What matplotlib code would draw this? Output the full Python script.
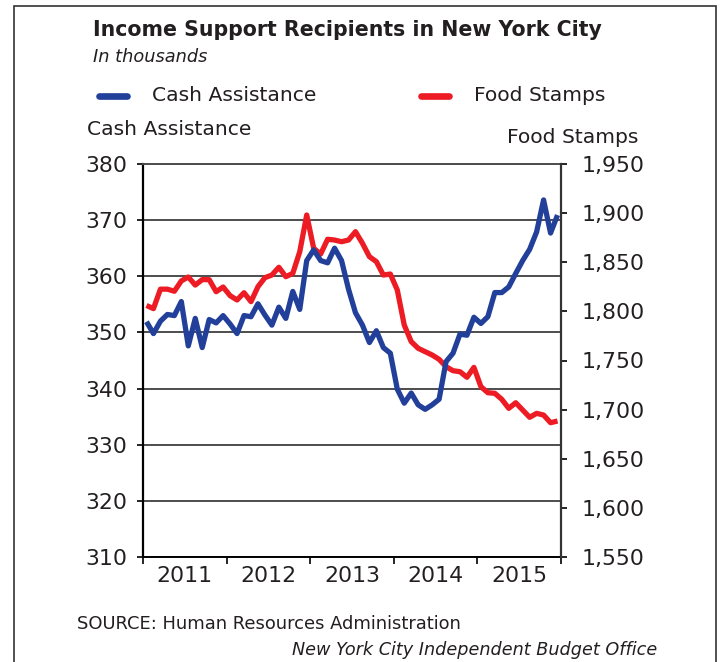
import matplotlib
matplotlib.use('Agg')
import matplotlib.pyplot as plt
from matplotlib.lines import Line2D
from matplotlib.patches import Rectangle
from matplotlib.ticker import FuncFormatter

# ---- data (in thousands), monthly Jan 2011 - Dec 2015 ----
years = [2011, 2012, 2013, 2014, 2015]
cash_assistance = [351.9, 349.8, 352.0, 353.2, 353.0, 355.5, 347.6, 352.5, 347.3, 352.3,
                   351.7, 353.0, 351.5, 349.8, 353.0, 352.8, 355.1, 353.1, 351.3, 354.5,
                   352.5, 357.3, 354.1, 362.8, 364.7, 362.8, 362.4, 365.0, 362.8, 357.7,
                   353.5, 351.3, 348.2, 350.3, 347.3, 346.3, 339.9, 337.4, 339.2, 337.1,
                   336.3, 337.1, 338.1, 344.8, 346.3, 349.7, 349.5, 352.7, 351.6, 352.8,
                   357.1, 357.1, 358.1, 360.5, 362.8, 364.8, 367.9, 373.6, 367.7, 370.9]
food_stamps = [1806.0, 1802.8, 1822.6, 1822.6, 1820.5, 1831.0, 1835.0, 1826.8, 1832.3, 1832.3,
               1820.0, 1824.8, 1816.0, 1811.6, 1819.0, 1809.9, 1825.1, 1834.3, 1837.0, 1844.9,
               1835.3, 1838.7, 1860.7, 1898.1, 1864.2, 1858.4, 1873.4, 1872.6, 1870.9, 1872.6,
               1881.1, 1869.3, 1855.7, 1850.6, 1837.0, 1838.0, 1821.8, 1786.1, 1769.2, 1762.4,
               1759.0, 1755.6, 1751.2, 1743.7, 1739.6, 1738.6, 1732.9, 1743.0, 1723.4, 1717.2,
               1716.6, 1710.5, 1701.3, 1707.0, 1699.6, 1692.2, 1696.2, 1694.5, 1686.7, 1688.4]
cash_ticks = [310, 320, 330, 340, 350, 360, 370, 380]
food_ticks = [1550, 1600, 1650, 1700, 1750, 1800, 1850, 1900, 1950]

months = [years[0] + (i + 0.5) / 12 for i in range(len(cash_assistance))]

BLUE = '#22409a'
RED = '#ed1c24'
TXT = '#231f20'
GRID = '#4d4d4d'

plt.rcParams['font.family'] = ['DejaVu Sans']

W, H = 720, 662
fig = plt.figure(figsize=(W / 100, H / 100), dpi=100)
fig.patch.set_facecolor('white')


def fx(px):
    return px / W


def fy(py):
    return 1 - py / H


# outer frame
fig.patches.append(Rectangle((fx(14), -0.02), fx(716) - fx(14), fy(6) + 0.02,
                             transform=fig.transFigure, fill=False,
                             edgecolor='#333333', linewidth=1.2, clip_on=False))

# texts
fig.text(fx(93), fy(36), 'Income Support Recipients in New York City', fontsize=14.8,
         fontweight='bold', color=TXT, ha='left', va='baseline')
fig.text(fx(93), fy(62), 'In thousands', fontsize=12.8, style='italic',
         color=TXT, ha='left', va='baseline')

fig.lines.append(Line2D([fx(99), fx(127)], [fy(96), fy(96)], transform=fig.transFigure,
                        color=BLUE, linewidth=4.8, solid_capstyle='round'))
fig.text(fx(152), fy(101), 'Cash Assistance', fontsize=14.6, color=TXT,
         ha='left', va='baseline')
fig.lines.append(Line2D([fx(421), fx(449)], [fy(96), fy(96)], transform=fig.transFigure,
                        color=RED, linewidth=4.8, solid_capstyle='round'))
fig.text(fx(474), fy(101), 'Food Stamps', fontsize=14.6, color=TXT,
         ha='left', va='baseline')

fig.text(fx(87), fy(135), 'Cash Assistance', fontsize=14.6, color=TXT,
         ha='left', va='baseline')
fig.text(fx(507), fy(143), 'Food Stamps', fontsize=14.6, color=TXT,
         ha='left', va='baseline')

fig.text(fx(77), fy(629), 'SOURCE: Human Resources Administration', fontsize=12.9,
         color=TXT, ha='left', va='baseline')
fig.text(fx(657), fy(655), 'New York City Independent Budget Office', fontsize=12.7,
         style='italic', color=TXT, ha='right', va='baseline')

# axes
ax = fig.add_axes([fx(143), fy(557), fx(561) - fx(143), (557 - 164) / H])
ax.set_xlim(years[0], years[-1] + 1)
ax.set_ylim(cash_ticks[0], cash_ticks[-1])
ax.set_yticks(cash_ticks)
ax.yaxis.grid(True, color=GRID, linewidth=1.4)
ax.set_axisbelow(True)
ax.set_xticks(list(range(years[0], years[-1] + 2)))
ax.set_xticklabels([])
ax.set_xticks([y + 0.5 for y in years], minor=True)
ax.set_xticklabels([str(y) for y in years], minor=True)
ax.tick_params(axis='x', which='major', length=5, width=1.2, direction='out', color='black')
ax.tick_params(axis='x', which='minor', length=0, pad=6.5, labelsize=15.8, labelcolor=TXT)
ax.tick_params(axis='y', length=4.3, width=1.2, direction='out', pad=7,
               labelsize=15.8, labelcolor=TXT)
ax.spines['top'].set_color(GRID)
ax.spines['top'].set_linewidth(1.4)
ax.spines['right'].set_visible(False)
ax.spines['left'].set_linewidth(1.6)
ax.spines['left'].set_color('black')
ax.spines['bottom'].set_linewidth(1.4)
ax.spines['bottom'].set_color('black')

ax2 = ax.twinx()
ax2.set_ylim(food_ticks[0], food_ticks[-1])
ax2.set_yticks(food_ticks)
ax2.yaxis.set_major_formatter(FuncFormatter(lambda v, p: f'{int(v):,}'))
ax2.tick_params(axis='y', length=4.5, width=1.2, direction='out', pad=10.5,
                labelsize=15.8, labelcolor=TXT)
for s in ['left', 'top', 'bottom']:
    ax2.spines[s].set_visible(False)
ax2.spines['right'].set_linewidth(1.6)
ax2.spines['right'].set_color('#333333')
ax2.plot(months, food_stamps, color=RED, linewidth=3.8, solid_joinstyle='round',
         solid_capstyle='butt')

ax3 = ax.twinx()
ax3.set_ylim(cash_ticks[0], cash_ticks[-1])
ax3.axis('off')
ax3.plot(months, cash_assistance, color=BLUE, linewidth=3.8, solid_joinstyle='round',
         solid_capstyle='butt')

fig.savefig('out.png', dpi=100, facecolor='white')
